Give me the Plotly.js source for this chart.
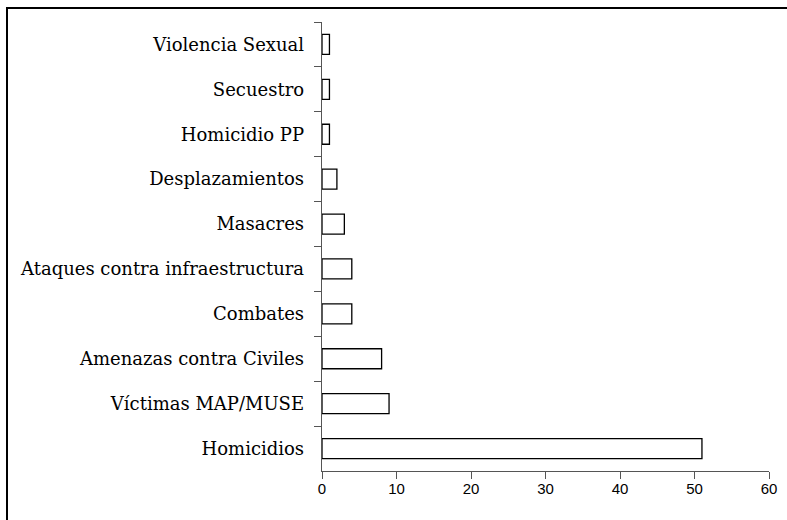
<!DOCTYPE html>
<html>
<head>
<meta charset="utf-8">
<script src="https://cdn.plot.ly/plotly-3.0.1.min.js"></script>
<style>
  html, body { margin: 0; padding: 0; background: #fff; }
  #wrap { position: relative; width: 787px; height: 520px; }
  #chart { position: absolute; left: 0; top: 0; width: 787px; height: 520px; }
  #frame { position: absolute; left: 6px; top: 7px; width: 781px; height: 513px;
           border-top: 2px solid #000; border-left: 2px solid #000; pointer-events: none; box-sizing: border-box; }
</style>
</head>
<body>
<div id="wrap">
  <div id="chart"></div>
  <div id="frame"></div>
</div>
<script>
const categories = [
  "Violencia Sexual",
  "Secuestro",
  "Homicidio PP",
  "Desplazamientos",
  "Masacres",
  "Ataques contra infraestructura",
  "Combates",
  "Amenazas contra Civiles",
  "Víctimas MAP/MUSE",
  "Homicidios"
];
const values = [1, 1, 1, 2, 3, 4, 4, 8, 9, 51];
const xTicks = [0, 10, 20, 30, 40, 50, 60];

const trace = {
  type: "bar",
  orientation: "h",
  y: categories,
  x: values,
  marker: { color: "#ffffff", line: { color: "#000000", width: 1.3 } },
  hoverinfo: "x+y"
};

const layout = {
  width: 787,
  height: 520,
  margin: { l: 322, r: 18, t: 22, b: 49, pad: 0 },
  paper_bgcolor: "rgba(0,0,0,0)",
  plot_bgcolor: "rgba(0,0,0,0)",
  showlegend: false,
  bargap: 0.555,
  xaxis: {
    range: [0, 60],
    tickvals: xTicks,
    ticktext: xTicks.map(String),
    ticks: "outside",
    ticklen: 7,
    tickwidth: 1,
    tickcolor: "#555555",
    showline: true,
    linecolor: "#555555",
    linewidth: 1.3,
    showgrid: false,
    zeroline: false,
    ticklabelstandoff: -3,
    tickfont: { family: "Liberation Sans, Arial, sans-serif", size: 15, color: "#000" }
  },
  yaxis: {
    type: "category",
    autorange: "reversed",
    ticks: "outside",
    tickson: "boundaries",
    ticklen: 7,
    tickwidth: 1,
    tickcolor: "#555555",
    showline: true,
    linecolor: "#555555",
    linewidth: 1.3,
    showgrid: false,
    zeroline: false,
    ticklabelstandoff: 13,
    tickfont: { family: "DejaVu Serif, serif", size: 18, color: "#000" }
  }
};

Plotly.newPlot("chart", [trace], layout, { displayModeBar: false, staticPlot: true });
</script>
</body>
</html>
